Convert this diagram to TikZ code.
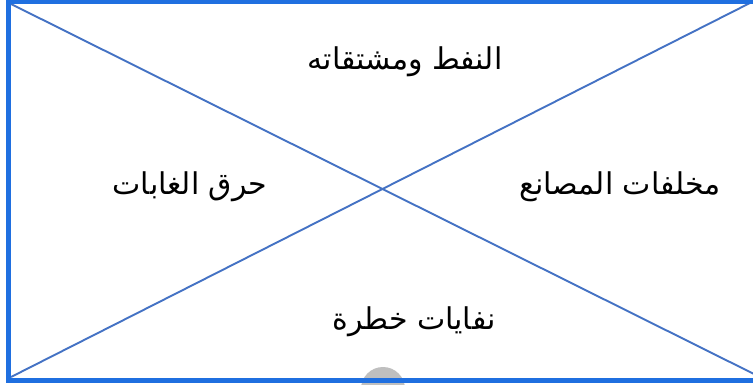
\documentclass[tikz,border=0pt]{standalone}
\usepackage{fontspec}
\newfontfamily\arabicfont[Script=Arabic]{DejaVu Sans}
\TeXXeTstate=1
\definecolor{frameblue}{HTML}{1F6FE0}
\definecolor{crossblue}{HTML}{4472C4}
\definecolor{knobgray}{HTML}{BFBFBF}
\tikzset{
  label/.style={font=\arabicfont\fontsize{30}{36}\selectfont,inner sep=0pt},
}
\begin{document}
\begin{tikzpicture}[x=1pt,y=-1pt]
\useasboundingbox (0,0) rectangle (753,385);
\fill[white] (0,0) rectangle (753,385);
\fill[knobgray] (383,389) circle (22);

\coordinate (tl) at (8.5,1.5);
\coordinate (tr) at (762,1.5);
\coordinate (bl) at (8.5,380.5);
\coordinate (br) at (762,380.5);

\draw[crossblue,line width=1.9pt] (11,4) -- (762,378);
\draw[crossblue,line width=1.9pt] (11,377) -- (750,3);
\draw[frameblue,line width=5.5pt] (tl) -- (tr) -- (br) -- (bl) -- cycle;

\node[label] (oil) at (405,62) {\beginR النفط ومشتقاته\endR};
\node[label] (forest) at (190,187) {\beginR حرق الغابات\endR};
\node[label] (factory) at (620,187) {\beginR مخلفات المصانع\endR};
\node[label] (waste) at (414,322) {\beginR نفايات خطرة\endR};
\end{tikzpicture}
\end{document}
